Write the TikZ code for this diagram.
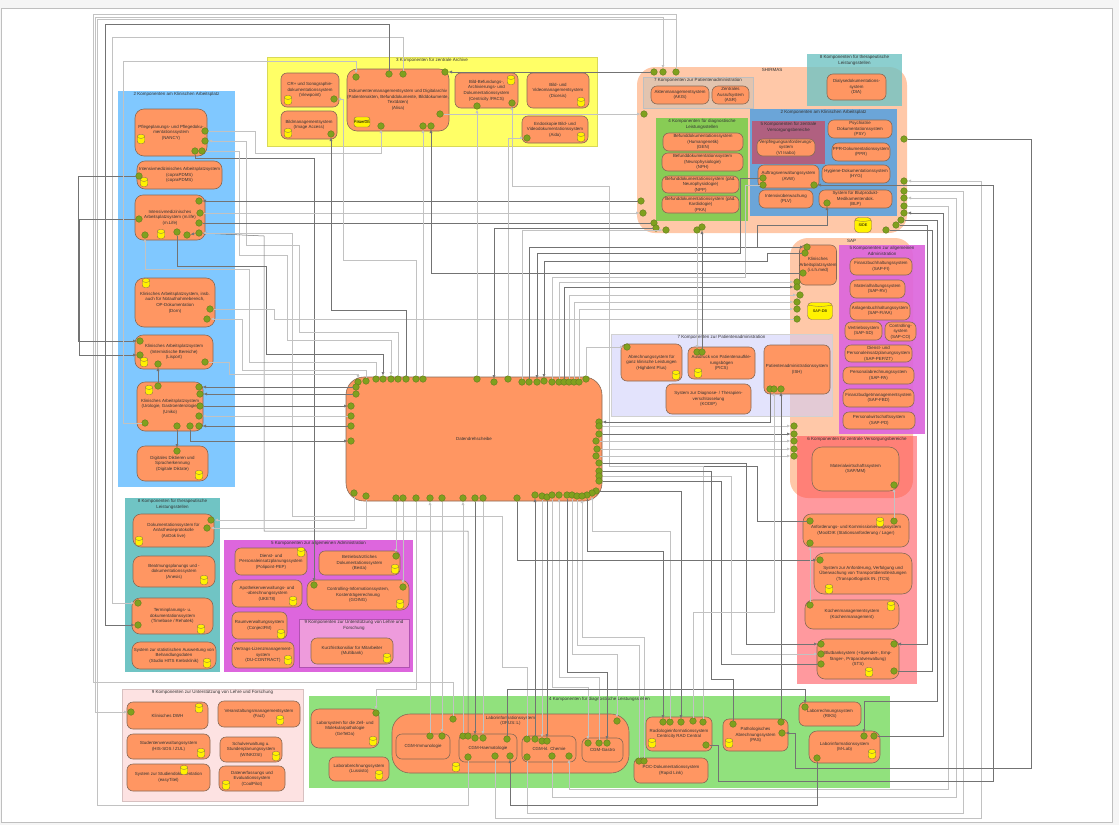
\documentclass[tikz,border=0pt]{standalone}
\usepackage{fontspec}
\setmainfont{Liberation Sans}
\usepackage{tikz}
\usetikzlibrary{arrows.meta}
\definecolor{compfill}{RGB}{255, 150, 98}
\definecolor{compline}{RGB}{135, 105, 85}
\definecolor{portfill}{RGB}{128, 160, 30}
\definecolor{portline}{RGB}{95, 125, 30}
\definecolor{yellowbox}{RGB}{255, 255, 102}
\definecolor{bluebox}{RGB}{128, 200, 255}
\definecolor{tealbox}{RGB}{112, 196, 196}
\definecolor{magentabox}{RGB}{221, 102, 221}
\definecolor{pinkbox}{RGB}{238, 155, 220}
\definecolor{palebox}{RGB}{253, 226, 226}
\definecolor{greenbox}{RGB}{145, 225, 125}
\definecolor{peachbox}{RGB}{255, 200, 168}
\definecolor{tanbox}{RGB}{226, 196, 175}
\definecolor{greeninner}{RGB}{136, 204, 85}
\definecolor{blueinner}{RGB}{107, 165, 216}
\definecolor{purplebox}{RGB}{176, 96, 128}
\definecolor{lavbox}{RGB}{205, 205, 250}
\definecolor{redbox}{RGB}{255, 70, 80}
\begin{document}
\begin{tikzpicture}[x=1pt, y=-1pt, >={Latex[length=3.5pt,width=3pt]},
  comp/.style={draw=compline, fill=compfill, line width=.6pt, rounded corners=6pt, align=center, inner sep=0pt, text=black!80, font=\fontsize{4.4}{5.6}\selectfont},
  grp/.style={rectangle, inner sep=0pt},
  grplabel/.style={anchor=north, align=center, yshift=-1pt, inner sep=0pt, text=black!80, font=\fontsize{4.5}{6}\selectfont},
  port/.style={circle, draw=portline, fill=portfill, line width=.4pt, minimum size=6.6pt, inner sep=0pt},
  dbicon/.style={rectangle, rounded corners=2.4pt, draw=compline, fill=yellow, line width=.4pt, minimum width=7.5pt, minimum height=9pt, inner sep=0pt, font=\fontsize{3.8}{4}\selectfont,
    path picture={\draw[compline, line width=.3pt] ([yshift=-2.6pt]path picture bounding box.north west) .. controls ([yshift=-4.4pt]path picture bounding box.north) and ([yshift=-4.4pt]path picture bounding box.north) .. ([yshift=-2.6pt]path picture bounding box.north east);}},
  darkw/.style={draw=black!55, line width=.5pt},
  litew/.style={draw=black!24, line width=1pt}]
  \useasboundingbox (0,0) rectangle (1119,825);
  \node[grp, fill=black!4, minimum width=1119pt, minimum height=825pt] (backdrop) at (559.5,412.5) {};
  \node[grp, draw=black!25, line width=1pt, fill=white, minimum width=1111pt, minimum height=814pt] (frame) at (556.5,415) {};

  \node[grp, fill=yellowbox, draw=yellowbox!85!black, minimum width=330pt, minimum height=89pt, label={[grplabel]north:3 Komponenten für zentrale Archive}] (archiv) at (432,101.5) {};
  \node[grp, fill=bluebox, minimum width=117pt, minimum height=396pt, label={[grplabel]north:2 Komponenten am Klinischen Arbeitsplatz}] (klinisch) at (176.5,289) {};
  \node[grp, fill=tealbox, minimum width=95pt, minimum height=174pt, label={[grplabel]north:8 Komponenten für therapeutische\\Leistungsstellen}] (thera) at (172.5,585) {};
  \node[grp, fill=magentabox, minimum width=189pt, minimum height=132pt, label={[grplabel]north:5 Komponenten zur allgemeinen Administration}] (admin) at (318.5,606) {};
  \node[grp, fill=pinkbox, draw=magentabox!80!black, minimum width=110pt, minimum height=48pt, label={[grplabel]north:9 Komponenten zur Unterstützung von Lehre und\\Forschung}] (lehrea) at (354,643) {};
  \node[grp, fill=palebox, draw=palebox!85!black, minimum width=181pt, minimum height=112pt, label={[grplabel]north:9 Komponenten zur Unterstützung von Lehre und Forschung}] (lehreb) at (212.5,745) {};
  \node[grp, fill=greenbox, minimum width=581pt, minimum height=92pt, label={[grplabel]north:4 Komponenten für diagnostische Leistungsstellen}] (diagn) at (599.5,742) {};

  \node[grp, fill=peachbox, rounded corners=18pt, minimum width=270pt, minimum height=166pt, label={[grplabel]north:SHIRMAS}] (shirmas) at (772,150) {};
  \node[grp, fill=tealbox, fill opacity=.8, text opacity=1, minimum width=95pt, minimum height=52pt, label={[grplabel]north:8 Komponenten für therapeutische\\Leistungsstellen}] (therar) at (854.5,80) {};
  \node[grp, fill=tanbox, draw=black!25, minimum width=110pt, minimum height=31pt, label={[grplabel]north:7 Komponenten zur Patientenadministration}] (patadma) at (698,92.5) {};
  \node[grp, fill=greeninner, minimum width=92pt, minimum height=103pt, label={[grplabel]north:4 Komponenten für diagnostische\\Leistungsstellen}] (diagnr) at (702,169.5) {};
  \node[grp, fill=blueinner, minimum width=147pt, minimum height=107pt, label={[grplabel]north:2 Komponenten am Klinischen Arbeitsplatz}] (klinischr) at (823.5,162.5) {};
  \node[grp, fill=purplebox, minimum width=73pt, minimum height=43pt, label={[grplabel]north:5 Komponenten für zentrale\\Versorgungsbereiche}] (versorga) at (788.5,142.5) {};

  \node[grp, fill=peachbox, rounded corners=18pt, minimum width=123pt, minimum height=260pt, label={[grplabel]north:SAP}] (sap) at (851.5,368) {};
  \node[grp, fill=magentabox, fill opacity=.92, text opacity=1, minimum width=86pt, minimum height=189pt, label={[grplabel]north:5 Komponenten zur allgemeinen\\Administration}] (adminr) at (882,339.5) {};
  \node[grp, fill=lavbox, fill opacity=.55, draw=black!18, minimum width=221pt, minimum height=82pt, label={[grplabel]north:7 Komponenten zur Patientenadministration}] (patadmb) at (721.5,375) {};
  \node[grp, fill=redbox, fill opacity=.55, minimum width=120pt, minimum height=248pt, label={[grplabel]north:6 Komponenten für zentrale Versorgungsbereiche}] (versorgb) at (857,560) {};

  \node[comp, minimum width=58pt, minimum height=34pt] (cr) at (310,90) {CR+ und Sonographie-\\dokumentationssystem\\(Viewpoint)};
  \node[comp, minimum width=56pt, minimum height=28pt] (bildm) at (309,125) {Bildmanagementsystem\\(Image Access)};
  \node[comp, rounded corners=10pt, minimum width=102pt, minimum height=62pt] (dms) at (398,100) {Dokumentenmanagementsystem und Digitalarchiv\\(Patientenakten, Befunddokumente, Bilddokumente,\\Textdaten)\\(Alisa)};
  \node[comp, minimum width=63pt, minimum height=35pt] (bb) at (486.5,90.5) {Bild-Befundungs-,\\Archivierungs- und\\Dokumentationssystem\\(Centricity /PACS)};
  \node[comp, minimum width=62pt, minimum height=35pt] (bv) at (558,90.5) {Bild- und\\Videomanagementsystem\\(Dicesis)};
  \node[comp, minimum width=66pt, minimum height=27pt] (endo) at (555,129.5) {Endoskopie Bild- und\\Videodokumentationssystem\\(Aida)};

  \node[comp, rounded corners=9pt, minimum width=72pt, minimum height=47pt] (pflege) at (171,132.5) {Pflegeplanungs- und Pflegedoku-\\mentationssystem\\(NANCY)};
  \node[comp, rounded corners=8pt, minimum width=85pt, minimum height=28pt] (copra) at (179.5,175) {Intensivmedizinisches Arbeitsplatzsystem\\(copraPDMS)\\(copraPDMS)};
  \node[comp, rounded corners=8pt, minimum width=70pt, minimum height=45pt] (mlife) at (170,217.5) {Intensivmedizinisches\\Arbeitsplatzsystem (m.life)\\(m.Life)};
  \node[comp, rounded corners=9pt, minimum width=80pt, minimum height=49pt] (dorn) at (175,302.5) {Klinisches Arbeitsplatzsystem, insb.\\auch für Notaufnahmebereich,\\OP-Dokumentation\\(Dorn)};
  \node[comp, rounded corners=8pt, minimum width=78pt, minimum height=34pt] (lisport) at (174,352) {Klinisches Arbeitsplatzsystem\\(Internistische Bereiche)\\(Lisport)};
  \node[comp, rounded corners=8pt, minimum width=66pt, minimum height=49pt] (uniko) at (170,406.5) {Klinisches Arbeitsplatzsystem\\(Urologie, Gastroenterologie)\\(Uniko)};
  \node[comp, rounded corners=8pt, minimum width=71pt, minimum height=35pt] (diktat) at (172.5,463.5) {Digitales Diktieren und\\Spracherkennung\\(Digitale Diktate)};

  \node[comp, rounded corners=8pt, minimum width=81pt, minimum height=33pt] (andok) at (173.5,530.5) {Dokumentationssystem für\\Anästhesieprotokolle\\(AnDok live)};
  \node[comp, rounded corners=8pt, minimum width=82pt, minimum height=31pt] (beatm) at (174,571.5) {Beatmungsplanungs und -\\dokumentationssystem\\(Anesis)};
  \node[comp, rounded corners=8pt, minimum width=81pt, minimum height=36pt] (termin) at (172.5,616) {Terminplanungs- u.\\dokumentationssystem\\(Timebase / Rehatek)};
  \node[comp, rounded corners=8pt, minimum width=84pt, minimum height=27pt] (statist) at (174,655.5) {System zur statistischen Auswertung von\\Behandlungsdaten\\(Studio HITS Krebsklinik)};

  \node[comp, minimum width=72pt, minimum height=27pt] (dienst) at (271,561.5) {Dienst- und\\Personaleinsatzplanungssystem\\(Polipoint-PEP)};
  \node[comp, minimum width=81pt, minimum height=24pt] (besta) at (359.5,563) {Betriebsärztliches\\Dokumentationssystem\\(Besta)};
  \node[comp, minimum width=70pt, minimum height=27pt] (apo) at (267,593.5) {Apothekenverwaltungs- und\\-abrechnungssystem\\(UKE78)};
  \node[comp, rounded corners=8pt, minimum width=102pt, minimum height=30pt] (going) at (358,595) {Controlling-Informationssystem,\\Kostenträgerrechnung\\(GOING)};
  \node[comp, minimum width=55pt, minimum height=27pt] (raum) at (259.5,625.5) {Raumverwaltungssystem\\(ConjectFM)};
  \node[comp, minimum width=62pt, minimum height=26pt] (vertrag) at (263,655) {Vertrags-Lizenzmanagement-\\system\\(DU-CONTRACT)};
  \node[comp, minimum width=82pt, minimum height=26pt] (kurz) at (352,651) {Kurzfristkonsiliar für Mitarbeiter\\(Multibank)};

  \node[comp, minimum width=81pt, minimum height=27pt] (dwh) at (167.5,715.5) {Klinisches DWH};
  \node[comp, minimum width=82pt, minimum height=26pt] (fact) at (259,714) {Veranstaltungsmanagementsystem\\(Fact)};
  \node[comp, minimum width=83pt, minimum height=25pt] (stud) at (168.5,746.5) {Studentenverwaltungssystem\\(HIS-SOS / ZUL)};
  \node[comp, minimum width=62pt, minimum height=25pt] (schul) at (251,749.5) {Schulverwaltung u.\\Stundenplanungssystem\\(WINKOSI)};
  \node[comp, minimum width=83pt, minimum height=27pt] (easy) at (168.5,777.5) {System zur Studiendokumentation\\(easyTitel)};
  \node[comp, minimum width=66pt, minimum height=25pt] (cool) at (252,778.5) {Datenerfassungs und\\Evaluationssystem\\(CoolPilot)};

  \node[comp, rounded corners=8pt, minimum width=68pt, minimum height=39pt] (geteda) at (345,728.5) {Laborsystem für die Zell- und\\Molekularpathologie\\(GeTeDa)};
  \node[comp, minimum width=60pt, minimum height=24pt] (lussisto) at (359,769) {Laborabrechnungssystem\\(Lussisto)};
  \node[comp, rounded corners=18pt, minimum width=237pt, minimum height=59pt] (opus) at (510.5,743.5) {};
  \node[anchor=north, align=center, inner sep=0pt, text=black!80, font=\fontsize{4.4}{5.6}\selectfont] (opustext) at (510.5,716) {Laborinformationssystem\\(OPUS::L)};
  \node[comp, minimum width=54pt, minimum height=25pt] (immun) at (423,746.5) {CGM-Immunologie};
  \node[comp, minimum width=58pt, minimum height=28pt] (haem) at (488,748) {CGM-Haematologie};
  \node[comp, minimum width=54pt, minimum height=26pt] (chem) at (549,749) {CGM-kl. Chemie};
  \node[comp, minimum width=41pt, minimum height=24pt] (gastro) at (602.5,750) {CGM-Gastro};
  \node[comp, minimum width=66pt, minimum height=34pt] (radio) at (679,734) {Radiologieinformationssystem\\Centricity RAD Central};
  \node[comp, minimum width=74pt, minimum height=25pt] (poc) at (671,770.5) {POC-Dokumentationssystem\\(Rapid Link)};
  \node[comp, minimum width=65pt, minimum height=32pt] (patho) at (755.5,735) {Pathologisches\\Abrechnungssystem\\(PAS)};
  \node[comp, minimum width=62pt, minimum height=24pt] (riks) at (830,714) {Laborrechnungssystem\\(RIKS)};
  \node[comp, rounded corners=8pt, minimum width=71pt, minimum height=32pt] (mlab) at (844.5,747) {Laborinformationssystem\\(M-Lab)};

  \node[comp, minimum width=59pt, minimum height=26pt] (dia) at (856.5,87) {Dialysedokumentations-\\system\\(DIA)};
  \node[comp, minimum width=58pt, minimum height=18pt] (akis) at (680,95) {Aktenmanagementsystem\\(AKIS)};
  \node[comp, minimum width=37pt, minimum height=18pt] (asr) at (730.5,95) {Zentrales\\Ausrufsystem\\(ASR)};
  \node[comp, minimum width=80pt, minimum height=18pt] (gen) at (703,142) {Befunddokumentationssystem\\(Humangenetik)\\(GEN)};
  \node[comp, minimum width=81pt, minimum height=18pt] (nph) at (702.5,162) {Befunddokumentationssystem\\(Neurophysiologie)\\(NPH)};
  \node[comp, minimum width=77pt, minimum height=17pt] (npp) at (700.5,184.5) {Befunddokumentationssystem (päd.\\Neurophysiologie)\\(NPP)};
  \node[comp, minimum width=77pt, minimum height=17pt] (pka) at (700.5,204.5) {Befunddokumentationssystem (päd.\\Kardiologie)\\(PKA)};
  \node[comp, minimum width=58pt, minimum height=17pt] (verpfl) at (786,147.5) {Verpflegungsanforderungs-\\system\\(VI Isabo)};
  \node[comp, minimum width=64pt, minimum height=18pt] (psy) at (860,129) {Psychiatrie\\Dokumentationssystem\\(PSY)};
  \node[comp, minimum width=58pt, minimum height=18pt] (ppr) at (861,152) {PPR-Dokumentationssystem\\(PPR)};
  \node[comp, minimum width=61pt, minimum height=23pt] (avw) at (788.5,176.5) {Auftragsverwaltungssystem\\(AVW)};
  \node[comp, minimum width=68pt, minimum height=18pt] (hyg) at (856,174) {Hygiene-Dokumentationssystem\\(HYG)};
  \node[comp, minimum width=54pt, minimum height=18pt] (plv) at (786,199) {Intensivüberwachung\\(PLV)};
  \node[comp, minimum width=73pt, minimum height=18pt] (blp) at (855.5,199) {System für Blutprodukt-\\Medikamentendok.\\(BLP)};

  \node[comp, minimum width=36pt, minimum height=40pt] (ishmed) at (818,265) {Klinisches\\Arbeitsplatzsystem\\(i.s.h.med)};
  \node[comp, minimum width=62pt, minimum height=17pt] (safi) at (881,266.5) {Finanzbuchhaltungssystem\\(SAP-FI)};
  \node[comp, minimum width=55pt, minimum height=18pt] (sarv) at (877.5,289) {Materialhaltungssystem\\(SAP-RV)};
  \node[comp, minimum width=60pt, minimum height=18pt] (saaa) at (880,311) {Anlagenbuchhaltungssystem\\(SAP-FI/AA)};
  \node[comp, minimum width=37pt, minimum height=18pt] (sasd) at (863.5,331) {Vertriebssystem\\(SAP-SD)};
  \node[comp, minimum width=31pt, minimum height=19pt] (saco) at (900.5,331.5) {Controlling-\\system\\(SAP-CO)};
  \node[comp, minimum width=67pt, minimum height=17pt] (sapep) at (878.5,353.5) {Dienst- und\\Personaleinsatzplanungssystem\\(SAP-PEP/ZT)};
  \node[comp, minimum width=71pt, minimum height=17pt] (sapa) at (878.5,375.5) {Personalabrechnungssystem\\(SAP-PA)};
  \node[comp, minimum width=71pt, minimum height=18pt] (safbd) at (878.5,398) {Finanzbudgetmanagementsystem\\(SAP-FBD)};
  \node[comp, minimum width=72pt, minimum height=17pt] (sapd) at (879,420.5) {Personalwirtschaftssystem\\(SAP-PD)};

  \node[comp, minimum width=61pt, minimum height=37pt] (highdent) at (651.5,362.5) {Abrechnungssystem für\\ganz klinische Leistungen\\(Highdent Plus)};
  \node[comp, minimum width=67pt, minimum height=32pt] (pics) at (721.5,363) {Ausdruck von Patientenaufkle-\\rungsbögen\\(PICS)};
  \node[comp, minimum width=85pt, minimum height=30pt] (kodip) at (708.5,399) {System zur Diagnose- / Therapien-\\verschlüsselung\\(KODIP)};
  \node[comp, minimum width=66pt, minimum height=49pt] (ishpat) at (797,369.5) {Patientenadministrationssystem\\(ISH)};

  \node[comp, rounded corners=10pt, minimum width=87pt, minimum height=44pt] (sapmm) at (855.5,469) {Materialwirtschaftssystem\\(SAP/MM)};
  \node[comp, rounded corners=8pt, minimum width=106pt, minimum height=33pt] (moolk) at (856,530.5) {Anforderungs- und Kommissionierungssystem\\(MoolDIK (Stationsanforderung / Lager)};
  \node[comp, rounded corners=10pt, minimum width=98pt, minimum height=41pt] (tcs) at (863,573.5) {System zur Anforderung, Verfolgung und\\Überwachung von Transportdienstleistungen\\(Transportlogistik IN. (TCS)};
  \node[comp, rounded corners=8pt, minimum width=94pt, minimum height=29pt] (kueche) at (852,614.5) {Küchenmanagementsystem\\(Küchenmanagement)};
  \node[comp, rounded corners=8pt, minimum width=82pt, minimum height=40pt] (blutb) at (858,659) {Blutbanksystem (+Spender-, Emp-\\fänger-, Präparatverwaltung)\\(STS)};

  \node[comp, rounded corners=18pt, minimum width=256pt, minimum height=124pt] (datendreh) at (474,439) {Datendrehscheibe};

  \node[dbicon] (dbcr) at (288,100) {}; \node[dbicon] (dbbildm) at (288,133) {}; \node[dbicon, minimum width=13pt, minimum height=10pt] (dbdms) at (362,122) {PowerDB};
  \node[dbicon] (dbbb) at (511,80) {}; \node[dbicon] (dbbv) at (581,102) {}; \node[dbicon] (dbendo) at (581,137) {};
  \node[dbicon] (dbpflege) at (141,139) {}; \node[dbicon] (dbcopra) at (144,182) {}; \node[dbicon] (dbmlife) at (161,234) {};
  \node[dbicon] (dbdorn) at (146,283) {}; \node[dbicon] (dblis) at (144,362) {}; \node[dbicon] (dbuni) at (149,390) {}; \node[dbicon] (dbdik) at (199,475) {};
  \node[dbicon] (dbandok) at (139,541) {}; \node[dbicon] (dbbeat) at (204,580) {}; \node[dbicon] (dbterm) at (201,629) {}; \node[dbicon] (dbstat) at (207,663) {};
  \node[dbicon] (dbdienst) at (301,552) {}; \node[dbicon] (dbbesta) at (395,569) {}; \node[dbicon] (dbapo) at (293,601) {}; \node[dbicon] (dbgoing) at (400,604) {};
  \node[dbicon] (dbraum) at (281,634) {}; \node[dbicon] (dbvert) at (288,660) {}; \node[dbicon] (dbkurz) at (387,658) {};
  \node[dbicon] (dbdwh) at (199,708) {}; \node[dbicon] (dbfact) at (280,720) {}; \node[dbicon] (dbstud) at (201,753) {}; \node[dbicon] (dbschul) at (276,756) {};
  \node[dbicon] (dbeasy) at (184,770) {}; \node[dbicon] (dbcool) at (226,785) {}; \node[dbicon] (dbgete) at (373,741) {}; \node[dbicon] (dbluss) at (379,775) {};
  \node[dbicon] (dbopus) at (456,767) {}; \node[dbicon] (dbradio) at (652,743) {}; \node[dbicon] (dbpas) at (729,743) {}; \node[dbicon] (dbmlab) at (872,754) {};
  \node[dbicon] (dbhigh) at (676,375) {}; \node[dbicon] (dbpics) at (698,373) {}; \node[dbicon] (dbmool) at (880,522) {}; \node[dbicon] (dbtcs) at (829,589) {};
  \node[dbicon] (dbkue) at (891,606) {}; \node[dbicon] (dbblut) at (869,672) {};
  \node[dbicon, rounded corners=4pt, minimum width=17pt, minimum height=15pt] (side) at (863,225) {SIDE};
  \node[dbicon, rounded corners=4pt, minimum width=25pt, minimum height=17pt] (sapdb) at (820,311) {SAP-DB};

  \node[port] (t1) at (358,382) {}; \node[port] (t2) at (366,381) {}; \node[port] (t3) at (376,379) {}; \node[port] (t4) at (383,379) {}; \node[port] (t5) at (391,379) {}; \node[port] (t6) at (398,379) {};
  \node[port] (t7) at (406,379) {}; \node[port] (t8) at (416,379) {}; \node[port] (t9) at (423,379) {}; \node[port] (t10) at (477,379) {}; \node[port] (t11) at (494,382) {}; \node[port] (t12) at (508,379) {};
  \node[port] (t13) at (522,382) {}; \node[port] (t14) at (529,382) {}; \node[port] (t15) at (537,382) {}; \node[port] (t16) at (544,381) {}; \node[port] (t17) at (552,382) {}; \node[port] (t18) at (559,382) {};
  \node[port] (t19) at (564,382) {}; \node[port] (t20) at (569,382) {}; \node[port] (t21) at (574,382) {}; \node[port] (t22) at (579,382) {}; \node[port] (t23) at (586,379) {};
  \node[port] (l1) at (356,387) {}; \node[port] (l2) at (356,394) {}; \node[port] (l3) at (351,406) {}; \node[port] (l4) at (351,416) {}; \node[port] (l5) at (351,426) {}; \node[port] (l6) at (351,441) {};
  \node[port] (r1) at (599,422) {}; \node[port] (r2) at (599,426) {}; \node[port] (r3) at (599,434) {}; \node[port] (r4) at (596,441) {}; \node[port] (r5) at (597,449) {}; \node[port] (r6) at (596,456) {};
  \node[port] (r7) at (599,463) {}; \node[port] (r8) at (599,471) {}; \node[port] (r9) at (599,476) {}; \node[port] (r10) at (599,481) {}; \node[port] (r11) at (596,491) {}; \node[port] (r12) at (592,493) {}; \node[port] (r13) at (587,495) {};
  \node[port] (b1) at (354,493) {}; \node[port] (b2) at (366,496) {}; \node[port] (b3) at (396,498) {}; \node[port] (b4) at (403,498) {}; \node[port] (b5) at (416,498) {}; \node[port] (b6) at (430,498) {};
  \node[port] (b7) at (442,498) {}; \node[port] (b8) at (463,498) {}; \node[port] (b9) at (475,498) {}; \node[port] (b10) at (483,498) {}; \node[port] (b11) at (517,498) {}; \node[port] (b12) at (535,495) {};
  \node[port] (b13) at (542,496) {}; \node[port] (b14) at (547,497) {}; \node[port] (b15) at (552,495) {}; \node[port] (b16) at (559,495) {}; \node[port] (b17) at (567,495) {}; \node[port] (b18) at (572,495) {}; \node[port] (b19) at (577,496) {}; \node[port] (b20) at (582,496) {};

  \node[port] (pf1) at (205,131) {}; \node[port] (pf2) at (205,141) {}; \node[port] (pf3) at (195,151) {}; \node[port] (pf4) at (202,151) {};
  \node[port] (cp1) at (139,176) {};
  \node[port] (ml1) at (199,201) {}; \node[port] (ml2) at (200,213) {}; \node[port] (ml3) at (199,223) {}; \node[port] (ml4) at (199,233) {}; \node[port] (ml5) at (139,219) {}; \node[port] (ml6) at (145,235) {}; \node[port] (ml7) at (177,232) {}; \node[port] (ml8) at (187,235) {};
  \node[port] (do1) at (210,309) {}; \node[port] (do2) at (207,319) {};
  \node[port] (li1) at (140,341) {}; \node[port] (li2) at (140,355) {}; \node[port] (li3) at (158,364) {}; \node[port] (li4) at (205,362) {};
  \node[port] (ur1) at (158,386) {}; \node[port] (ur2) at (199,387) {}; \node[port] (ur3) at (200,394) {}; \node[port] (ur4) at (200,406) {}; \node[port] (ur5) at (199,416) {}; \node[port] (ur6) at (199,426) {}; \node[port] (ur7) at (145,423) {}; \node[port] (ur8) at (177,426) {}; \node[port] (ur9) at (190,426) {};
  \node[port] (dg1) at (177,451) {};
  \node[port] (an1) at (211,520) {}; \node[port] (an2) at (207,528) {}; \node[port] (te1) at (138,603) {}; \node[port] (te2) at (138,625) {};
  \node[port] (be1) at (396,556) {}; \node[port] (co1) at (314,585) {}; \node[port] (co2) at (403,587) {}; \node[port] (dw1) at (131,712) {}; \node[port] (ge1) at (376,713) {};

  \node[port] (cr1) at (334,99) {}; \node[port] (bi1) at (331,134) {};
  \node[port] (dm1) at (356,77) {}; \node[port] (dm2) at (389,74) {}; \node[port] (dm3) at (403,74) {}; \node[port] (dm4) at (445,72) {}; \node[port] (dm5) at (440,114) {}; \node[port] (dm6) at (381,126) {}; \node[port] (dm7) at (423,126) {}; \node[port] (dm8) at (431,126) {};
  \node[port] (bb1) at (477,106) {}; \node[port] (bb2) at (512,103) {}; \node[port] (en1) at (527,138) {};

  \node[port] (ou1) at (654,72) {}; \node[port] (ou2) at (663,72) {}; \node[port] (ou3) at (676,72) {}; \node[port] (ou4) at (644,114) {}; \node[port] (ou5) at (641,201) {}; \node[port] (ou6) at (643,213) {};
  \node[port] (ou7) at (654,223) {}; \node[port] (ou8) at (656,228) {}; \node[port] (ou9) at (666,230) {}; \node[port] (ou10) at (697,230) {}; \node[port] (ou11) at (702,227) {};
  \node[port] (ou12) at (904,139) {}; \node[port] (ou13) at (904,181) {}; \node[port] (ou14) at (904,191) {}; \node[port] (ou15) at (904,198) {}; \node[port] (ou16) at (904,206) {}; \node[port] (ou17) at (904,213) {};
  \node[port] (ou18) at (901,220) {}; \node[port] (ou19) at (896,225) {}; \node[port] (ou20) at (886,230) {};
  \node[port] (au1) at (763,178) {}; \node[port] (au2) at (763,185) {}; \node[port] (au3) at (814,185) {}; \node[port] (bp1) at (827,203) {};

  \node[port] (is1) at (807,247) {}; \node[port] (is2) at (805,253) {}; \node[port] (is3) at (803,273) {};
  \node[port] (sa1) at (797,282) {}; \node[port] (sa2) at (797,287) {}; \node[port] (sa3) at (800,295) {}; \node[port] (sa4) at (797,302) {}; \node[port] (sa5) at (797,309) {}; \node[port] (sa6) at (797,319) {};
  \node[port] (ab1) at (627,347) {}; \node[port] (ad1) at (697,352) {}; \node[port] (ad2) at (702,352) {};
  \node[port] (pa1) at (770,389) {}; \node[port] (pa2) at (774,389) {}; \node[port] (pa3) at (781,389) {};
  \node[port] (sb1) at (794,426) {}; \node[port] (sb2) at (794,434) {}; \node[port] (sb3) at (794,441) {}; \node[port] (sb4) at (794,449) {}; \node[port] (sb5) at (794,456) {};

  \node[port] (mm1) at (894,485) {}; \node[port] (af1) at (810,521) {}; \node[port] (af2) at (894,521) {}; \node[port] (af3) at (810,543) {}; \node[port] (tr1) at (820,560) {}; \node[port] (ku1) at (810,605) {};
  \node[port] (bl1) at (821,644) {}; \node[port] (bl2) at (821,654) {}; \node[port] (bl3) at (821,664) {}; \node[port] (bl4) at (894,644) {}; \node[port] (bl5) at (894,671) {};

  \node[port] (op1) at (453,719) {}; \node[port] (op2) at (617,721) {}; \node[port] (im1) at (430,736) {}; \node[port] (im2) at (442,736) {};
  \node[port] (ha1) at (463,736) {}; \node[port] (ha2) at (468,736) {}; \node[port] (ha3) at (475,738) {}; \node[port] (ha4) at (483,738) {}; \node[port] (ha5) at (507,739) {}; \node[port] (ha6) at (468,757) {}; \node[port] (ha7) at (495,756) {}; \node[port] (ha8) at (510,756) {};
  \node[port] (ch1) at (527,739) {}; \node[port] (ch2) at (535,739) {}; \node[port] (ch3) at (542,741) {}; \node[port] (ch4) at (547,741) {}; \node[port] (ch5) at (527,757) {}; \node[port] (ch6) at (552,756) {}; \node[port] (ch7) at (569,756) {};
  \node[port] (ga1) at (588,743) {}; \node[port] (ga2) at (599,743) {}; \node[port] (ga3) at (607,743) {};
  \node[port] (ra1) at (663,722) {}; \node[port] (ra2) at (670,722) {}; \node[port] (ra3) at (681,722) {}; \node[port] (ra4) at (693,721) {}; \node[port] (ra5) at (703,722) {}; \node[port] (ra6) at (706,745) {};
  \node[port] (pc1) at (639,761) {}; \node[port] (pc2) at (644,761) {}; \node[port] (pt1) at (733,724) {}; \node[port] (pt2) at (781,722) {}; \node[port] (pt3) at (782,733) {};
  \node[port] (rk1) at (805,707) {}; \node[port] (mb1) at (864,736) {}; \node[port] (mb2) at (874,736) {}; \node[port] (mb3) at (817,758) {};

  \draw[litew,->] (dm3) |- (112,37) |- (te1);
  \draw[darkw,->] (dm2) |- (105,24) |- (te2);
  \draw[litew] (op1) |- (93,682) |- (676,14) -- (ou3);
  \draw[litew,<->] (ou2) |- (95,17) |- (dw1);
  \draw[litew] (ha6) |- (97,805) |- (676,19) -- (ou3);
  \draw[darkw,->] (cp1) -| (78,341) -- (li1);
  \draw[darkw,->] (ml5) -| (79,355) -- (li2);
  \draw[litew,->] (ur7) -| (123,61) -| (dm1);

  \draw[litew,->] (pf1) -| (255,153) -| (dm6);
  \draw[darkw,->] (pf3) |- (314,158) -- (co1);
  \draw[litew,->] (pf4) -| (239,255) -| (287,340) -| (t5);
  \draw[litew,->] (t6) |- (299,332) |- (246,245) |- (pf2);
  \draw[litew,->] (t3) |- (249,362) |- (145,269) -- (ml6);
  \draw[darkw,->] (ml7) |- (266,266) |- (383,354) -- (t4);
  \draw[darkw,->] (ou5) -- (ml1);
  \draw[litew,->] (ml2) -- (ou6);
  \draw[litew] (ml3) -- (ou7);
  \draw[darkw] (ml3) -- (ou7);
  \draw[darkw,->] (ha2) |- (264,531) -- (264,236) -- (ml4);
  \draw[litew,->] (ch1) |- (502,667) |- (292,516) |- (ml4);
  \draw[darkw,->] (ml4) -- (ml8);

  \draw[litew] (do1) -| (274,319) -- (sa6);
  \draw[litew,->] (t2) |- (242,370) |- (do2);
  \draw[litew,->] (li4) -| (229,374) -| (t1);
  \draw[darkw,->] (ur1) -- (li3);
  \draw[darkw,->] (ur8) -- (dg1);
  \draw[darkw,->] (l1) -- (ur2); \draw[darkw,->] (l2) -- (ur3); \draw[darkw,->] (ur4) -- (l3); \draw[litew,->] (l4) -- (ur5); \draw[darkw,->] (l5) -- (ur6);
  \draw[darkw,->] (ur9) |- (l6);
  \draw[litew,->] (b1) |- (an1);
  \draw[litew,->] (b2) |- (an2);

  \draw[darkw,->] (t7) |- (331,310) -- (bi1);
  \draw[litew,->] (t8) |- (343,260) |- (cr1);
  \draw[litew,->] (t9) -- (dm7);
  \draw[darkw,->] (is3) -| (dm8);
  \draw[litew,->] (t10) -- (bb1);
  \draw[litew,->] (t12) |- (en1);
  \draw[darkw] (af1) -| (757,466) -| (609,186) -| (bb2);
  \draw[litew,<-] (bb2) |- (609,186) |- (703,466) -- (ra5);
  \draw[darkw,->] (ou1) -- (dm4);
  \draw[litew,->] (dm5) -- (ou4);

  \draw[darkw,->] (ou8) -| (t11);
  \draw[litew,->] (t13) |- (ou9);
  \draw[darkw,->] (t14) |- (is1);
  \draw[darkw,->] (t14) |- (757,247) -- (757,225) -| (bp1);
  \draw[darkw,->] (au1) -| (740,253) -| (t15);
  \draw[litew] (au2) -| (745,277) -| (t17);
  \draw[darkw,->] (is2) -| (767,261) -| (t16);
  \draw[litew,->] (t18) |- (sa1); \draw[darkw,->] (t19) |- (sa2); \draw[litew,->] (t20) |- (sa3); \draw[litew,->] (t21) |- (sa4); \draw[litew,->] (t22) |- (sa5);
  \draw[litew,->] (t23) |- (ab1);
  \draw[litew,->] (ou10) -- (ad1);
  \draw[darkw,->] (ad2) -- (ou11);

  \draw[litew,->] (b3) -- (be1);
  \draw[litew,->] (b4) -- (co2);
  \draw[litew,->] (b5) |- (376,689) -- (ge1);
  \draw[litew,->] (im1) -- (b6); \draw[litew,->] (b7) -- (im2); \draw[litew,->] (ha1) -- (b8); \draw[darkw,->] (b9) -- (ha3); \draw[litew,->] (b10) -- (ha4);
  \draw[darkw,->] (ch2) -- (b12); \draw[litew,->] (b13) -- (ch3); \draw[darkw,->] (b14) -- (ch4);
  \draw[litew,->] (b15) |- (588,687) -- (ga1);
  \draw[litew,->] (ga2) |- (559,677) -- (b16);
  \draw[darkw,->] (b17) |- (607,672) -- (ga3);
  \draw[litew,->] (b18) |- (617,654) -- (op2);
  \draw[litew] (b19) |- (639,645) -- (pc1);
  \draw[litew,->] (pc2) |- (582,637) -- (b20);
  \draw[darkw,->] (r13) |- (663,551) -- (ra1);
  \draw[litew,->] (ra2) |- (592,531) -- (r12);
  \draw[darkw,->] (r11) -| (ra3);
  \draw[darkw,->] (b11) |- (tr1);
  \draw[darkw,->] (ha5) |- (805,689) -- (rk1);

  \draw[darkw,->] (pa1) |- (r1);
  \draw[litew,->] (r2) -- (sb1); \draw[darkw,->] (r3) -- (sb2); \draw[litew,->] (r4) -- (sb3); \draw[litew,->] (r5) -- (sb4); \draw[litew,->] (r6) -- (sb5);
  \draw[darkw,->] (r7) -| (746,644) -- (bl1);
  \draw[litew,->] (r9) -| (731,654) -- (bl2);
  \draw[darkw] (r10) -| (721,664) -- (bl3);
  \draw[darkw] (r8) -| (711,679) -| (pt1);
  \draw[litew,->] (ra4) |- (774,612) -- (pa2);
  \draw[darkw,->] (pt2) -- (pa3);
  \draw[litew,->] (af2) -- (mm1);
  \draw[litew,->] (ku1) -- (af3);

  \draw[darkw,->] (ou18) -| (937,701) -| (mb1);
  \draw[darkw,->] (ou19) -| (927,644) -- (bl4);
  \draw[darkw] (ou20) -| (932,671) -- (bl5);
  \draw[darkw,->] (mb2) -| (943,213) -- (ou17);
  \draw[litew,->] (ou16) -| (948,789) -| (ch7);
  \draw[litew,->] (ch6) |- (956,797) |- (ou15);
  \draw[litew] (ch5) |- (963,813) |- (ou14);
  \draw[litew,->] (ha7) |- (981,818) |- (ou13);
  \draw[darkw,->] (mb3) |- (510,805) -- (ha8);
  \draw[darkw,->] (ra6) -| (718,781) -| (993,185) -- (au3);
  \draw[darkw,->] (ou12) -| (1031,768) -| (795,733) -- (pt3);
\end{tikzpicture}
\end{document}
